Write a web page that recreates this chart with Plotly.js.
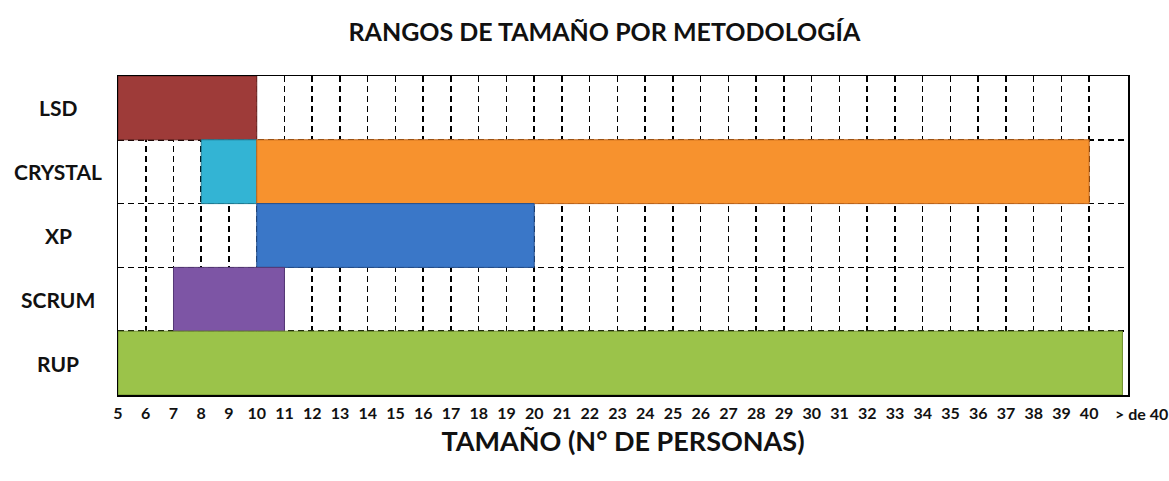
<!DOCTYPE html>
<html>
<head>
<meta charset="utf-8">
<script src="https://cdn.plot.ly/plotly-3.0.1.min.js"></script>
<style>html,body{margin:0;padding:0;background:#fff;}#chart{width:1169px;height:481px;}</style>
</head>
<body>
<div id="chart"></div>
<script>
// Data
const methodologies = ['RUP', 'SCRUM', 'XP', 'CRYSTAL', 'LSD'];
const barCategory = ['LSD', 'CRYSTAL', 'CRYSTAL', 'XP', 'SCRUM', 'RUP'];
const barStart = [5, 8, 10, 10, 7, 5];
const barEnd = [10, 10, 40, 20, 11, 41.2];
const barColors = ['#9E3B39', '#33B4D4', '#F7922E', '#3A77C8', '#7D55A5', '#9BC34A'];
const barLines = ['#6E2624', '#1E7F98', '#C0661A', '#24508F', '#553876', '#6E8E2C'];
const tickValues = [5,6,7,8,9,10,11,12,13,14,15,16,17,18,19,20,21,22,23,24,25,26,27,28,29,30,31,32,33,34,35,36,37,38,39,40];
const tickLabels = tickValues.map(String);
const overLabel = '> de 40';
const overLabelPos = 40.85;

const FONT = 'Lato, "Open Sans", sans-serif';

const trace = {
  type: 'bar',
  orientation: 'h',
  y: barCategory,
  base: barStart,
  x: barEnd.map((e, i) => e - barStart[i]),
  marker: { color: barColors, line: { color: barLines, width: 1 } },
  hoverinfo: 'skip',
  showlegend: false
};

const annotations = methodologies.map(m => ({
  xref: 'paper', yref: 'y', x: -0.0594, y: m, text: '<b>' + m + '</b>',
  showarrow: false, xanchor: 'center', yanchor: 'middle',
  font: { family: FONT, size: 21, color: '#111' }
}));
annotations.push({
  xref: 'x', yref: 'paper', x: overLabelPos, y: 0, yshift: -18,
  text: '<b>' + overLabel + '</b>', showarrow: false, xanchor: 'left', yanchor: 'middle',
  font: { family: FONT, size: 16, color: '#111' }
});

const layout = {
  width: 1169, height: 481,
  margin: { l: 118, r: 41, t: 76, b: 86 },
  paper_bgcolor: '#fff', plot_bgcolor: '#fff',
  barmode: 'overlay', bargap: 0,
  title: {
    text: '<b>RANGOS DE TAMAÑO POR METODOLOGÍA</b>',
    x: 0.517, xanchor: 'center', y: 0.933, yanchor: 'middle',
    font: { family: FONT, size: 25, color: '#111' }
  },
  xaxis: {
    range: [5, 41.4],
    tickmode: 'array', tickvals: tickValues, ticktext: tickLabels.map(t => '<b>' + t + '</b>'),
    showgrid: true, gridcolor: '#000', gridwidth: 1.5, griddash: '6px,4px',
    showline: true, linecolor: '#000', linewidth: 1.5, mirror: true,
    ticks: '', zeroline: false, ticklabelstandoff: 3,
    tickfont: { family: FONT, size: 16, color: '#111' },
    title: { text: '<b>TAMAÑO (N° DE PERSONAS)</b>', standoff: 11, font: { family: FONT, size: 27, color: '#111' } },
    fixedrange: true
  },
  yaxis: {
    type: 'category', categoryorder: 'array', categoryarray: methodologies,
    tickson: 'boundaries',
    showgrid: true, gridcolor: '#000', gridwidth: 1.5, griddash: '6px,4px',
    showline: true, linecolor: '#000', linewidth: 1.5, mirror: true,
    showticklabels: false, ticks: '', zeroline: false,
    fixedrange: true
  },
  annotations: annotations
};

Plotly.newPlot('chart', [trace], layout, { displayModeBar: false, staticPlot: true });
</script>
</body>
</html>
